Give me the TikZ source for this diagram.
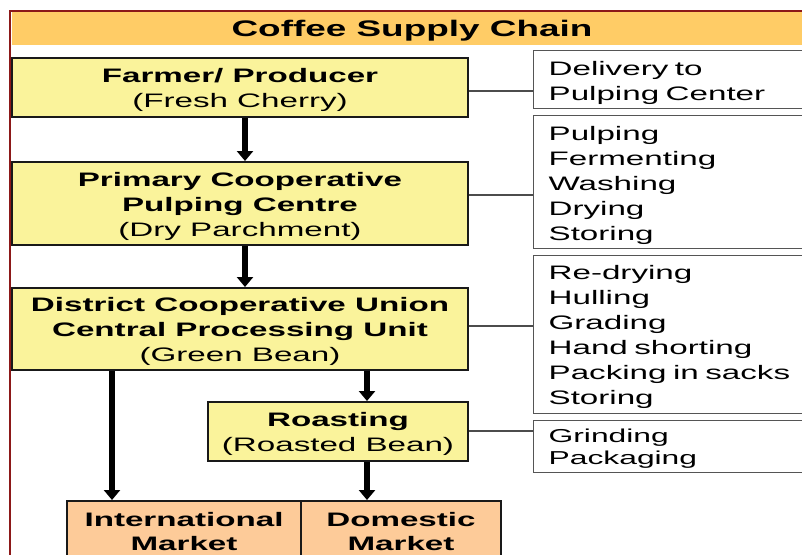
\documentclass[tikz,border=0pt]{standalone}
\usepackage{fontspec}
\setmainfont{Liberation Sans}[FakeStretch=1.7]
\newfontfamily\titlefont{Liberation Sans}[FakeStretch=1.64]
\usetikzlibrary{arrows.meta}

\definecolor{cFrame}{RGB}{140,24,24}
\definecolor{cBand}{RGB}{255,204,102}
\definecolor{cStage}{RGB}{250,243,155}
\definecolor{cMarket}{RGB}{253,203,153}
\definecolor{cStepEdge}{RGB}{85,85,85}

% fixed padding above the first and below the last line of a box text
\newcommand{\toppad}[1]{\rule{0pt}{#1}}
\newcommand{\botpad}[1]{\rule[-#1]{0pt}{#1}}

\begin{document}
\begin{tikzpicture}[x=1pt,y=-1pt,
  stagebox/.style={draw=black!90, line width=2.4pt, fill=cStage, align=center,
    anchor=north, inner sep=0pt, font=\fontsize{19.5}{25}\selectfont},
  marketbox/.style={stagebox, fill=cMarket, font=\fontsize{19.5}{24}\selectfont\bfseries},
  stepbox/.style={draw=cStepEdge, line width=1.3pt, anchor=north west, align=left,
    text width=265pt, inner xsep=15pt, inner ysep=0pt, font=\fontsize{19.5}{25}\selectfont},
  link/.style={draw=black!70, line width=1.2pt},
  flow/.style={line width=5.5pt, -{Triangle[length=10pt,width=16pt]}},
]
\useasboundingbox (0,0) rectangle (802,554);
\clip (0,0) rectangle (802,554);

% slide frame
\draw[cFrame, line width=2pt] (9.5,10.5) rectangle (900,700);

% heading band
\node[fill=cBand, minimum width=800pt, minimum height=33pt, inner sep=0pt,
  text height=16pt, text depth=0pt,
  font=\titlefont\bfseries\fontsize{22.5}{25}\selectfont] (title) at (412,28.5) {Coffee Supply Chain};

% processing stages
\node[stagebox, minimum width=456pt] (farmer) at (240,57)
  {\toppad{24pt}\textbf{Farmer/ Producer}\\(Fresh Cherry)\botpad{10pt}};
\node[stagebox, minimum width=456pt] (primary) at (240,161)
  {\toppad{24pt}\textbf{Primary Cooperative}\\\textbf{Pulping Centre}\\(Dry Parchment)\botpad{9pt}};
\node[stagebox, minimum width=456pt] (district) at (240,287)
  {\toppad{23pt}\textbf{District Cooperative Union}\\\textbf{Central Processing Unit}\\(Green Bean)\botpad{9pt}};
\node[stagebox, minimum width=260pt] (roasting) at (338,401)
  {\toppad{24pt}\textbf{Roasting}\\(Roasted Bean)\botpad{10pt}};

% markets
\node[marketbox, minimum width=234pt] (intl) at (184,500) {\toppad{25pt}International\\Market\botpad{11pt}};
\node[marketbox, minimum width=200pt] (dom) at (401,500) {\toppad{25pt}Domestic\\Market\botpad{11pt}};

% activities at each stage
\node[stepbox] (delivery) at (533,50) {\noindent\toppad{25pt}Delivery to\\Pulping Center\botpad{8pt}};
\node[stepbox] (wetmill) at (533,115)
  {\noindent\toppad{25pt}Pulping\\Fermenting\\Washing\\Drying\\Storing\botpad{8pt}};
\node[stepbox] (drymill) at (533,255)
  {\noindent\toppad{24pt}Re-drying\\Hulling\\Grading\\Hand shorting\\Packing in sacks\\Storing\botpad{9pt}};
\node[stepbox, font=\fontsize{18.7}{22}\selectfont] (finish) at (533,420)
  {\noindent\toppad{22pt}Grinding\\Packaging\botpad{8pt}};

% stage-to-activity links
\draw[link] (farmer.east |- 0,91) -- (delivery.west |- 0,91);
\draw[link] (primary.east |- 0,195) -- (wetmill.west |- 0,195);
\draw[link] (district.east |- 0,326) -- (drymill.west |- 0,326);
\draw[link] (roasting.east |- 0,431) -- (finish.west |- 0,431);

% product flow
\draw[flow] (farmer.south -| 245,0) -- (primary.north -| 245,0);
\draw[flow] (primary.south -| 245,0) -- (district.north -| 245,0);
\draw[flow] (district.south -| 367,0) -- (roasting.north -| 367,0);
\draw[flow] (district.south -| 112,0) -- (intl.north -| 112,0);
\draw[flow] (roasting.south -| 367,0) -- (dom.north -| 367,0);
\end{tikzpicture}
\end{document}
